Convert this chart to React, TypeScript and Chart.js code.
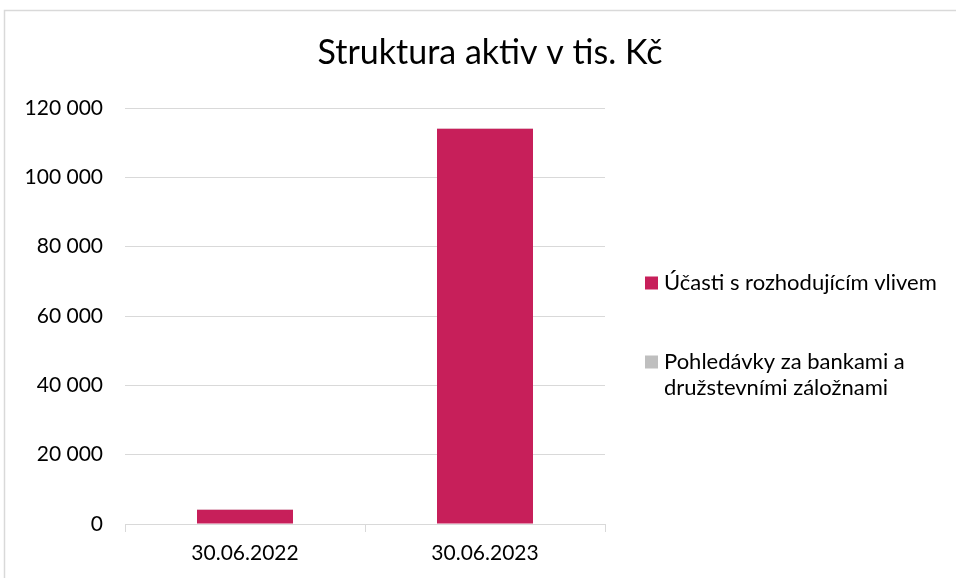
import React, { useEffect, useRef } from "react";
import { Chart, registerables } from "chart.js";

Chart.register(...registerables);

const TITLE = "Struktura aktiv v tis. Kč";
const categories = ["30.06.2022", "30.06.2023"];
const seriesNames = ["Účasti s rozhodujícím vlivem", "Pohledávky za bankami a družstevními záložnami"];
const legendLines = [["Účasti s rozhodujícím vlivem"], ["Pohledávky za bankami a", "družstevními záložnami"]];
const ucastiValues = [4100, 114000];
const pohledavkyValues = [60, 120];
const seriesColors = ["#C71F5A", "#BFBFBF"];
const yTicksMax = 120000;
const yTickStep = 20000;

const FONT = "Lato, 'Open Sans', sans-serif";

const fmt = (v: number) => String(v).replace(/\B(?=(\d{3})+(?!\d))/g, " ");

const decorPlugin = {
  id: "decor",
  beforeDraw(chart: any) {
    const ctx = chart.ctx;
    ctx.save();
    ctx.fillStyle = "#ffffff";
    ctx.fillRect(0, 0, chart.width, chart.height);
    ctx.strokeStyle = "#d9d9d9";
    ctx.lineWidth = 1.5;
    ctx.beginPath();
    ctx.moveTo(4.5, chart.height);
    ctx.lineTo(4.5, 10.5);
    ctx.lineTo(chart.width, 10.5);
    ctx.stroke();
    ctx.restore();
  },
  afterDraw(chart: any) {
    const ctx = chart.ctx;
    ctx.save();
    ctx.fillStyle = "#000000";
    ctx.textAlign = "center";
    ctx.textBaseline = "middle";
    ctx.font = `34px ${FONT}`;
    ctx.fillText(TITLE, 490, 53);

    const itemsY = [283, 362];
    ctx.textAlign = "left";
    ctx.font = `22px ${FONT}`;
    legendLines.forEach((lines, i) => {
      const y = itemsY[i];
      ctx.fillStyle = seriesColors[i];
      ctx.fillRect(645, y - 6.5, 13, 13);
      ctx.fillStyle = "#000000";
      lines.forEach((line, j) => {
        ctx.fillText(line, 664, y + j * 26);
      });
    });
    ctx.restore();
  },
};

export default function App() {
  const ref = useRef<HTMLCanvasElement>(null);
  useEffect(() => {
    if (!ref.current) return;
    const chart = new Chart(ref.current, {
      type: "bar",
      data: {
        labels: categories,
        datasets: [
          {
            label: seriesNames[0],
            data: ucastiValues,
            backgroundColor: seriesColors[0],
            barPercentage: 0.4,
            categoryPercentage: 1,
          },
          {
            label: seriesNames[1],
            data: pohledavkyValues,
            backgroundColor: seriesColors[1],
            barPercentage: 0.4,
            categoryPercentage: 1,
          },
        ],
      },
      options: {
        animation: false,
        responsive: false,
        maintainAspectRatio: false,
        layout: { padding: { top: 108, bottom: 0, right: 351, left: 0 } },
        plugins: {
          legend: { display: false },
          title: { display: false },
          tooltip: { enabled: false },
        },
        scales: {
          x: {
            stacked: true,
            grid: {
              display: true,
              drawOnChartArea: false,
              offset: true,
              tickLength: 8,
              color: "#d9d9d9",
            },
            border: { display: true, color: "#d9d9d9", width: 1 },
            ticks: { color: "#000", padding: 9, font: { family: FONT, size: 21 } },
            afterFit: (scale: any) => {
              scale.height = 54;
            },
          },
          y: {
            stacked: true,
            min: 0,
            max: yTicksMax,
            grid: { color: "#d9d9d9", drawTicks: false },
            border: { display: false },
            ticks: {
              stepSize: yTickStep,
              color: "#000",
              padding: 22,
              font: { family: FONT, size: 21 },
              callback: (v: any) => fmt(Number(v)),
            },
            afterFit: (scale: any) => {
              scale.width = 125;
            },
          },
        },
      },
      plugins: [decorPlugin],
    });
    return () => chart.destroy();
  }, []);
  return (
    <div style={{ position: "absolute", left: 0, top: 0, width: 956, height: 578 }}>
      <canvas ref={ref} width={956} height={578} />
    </div>
  );
}
